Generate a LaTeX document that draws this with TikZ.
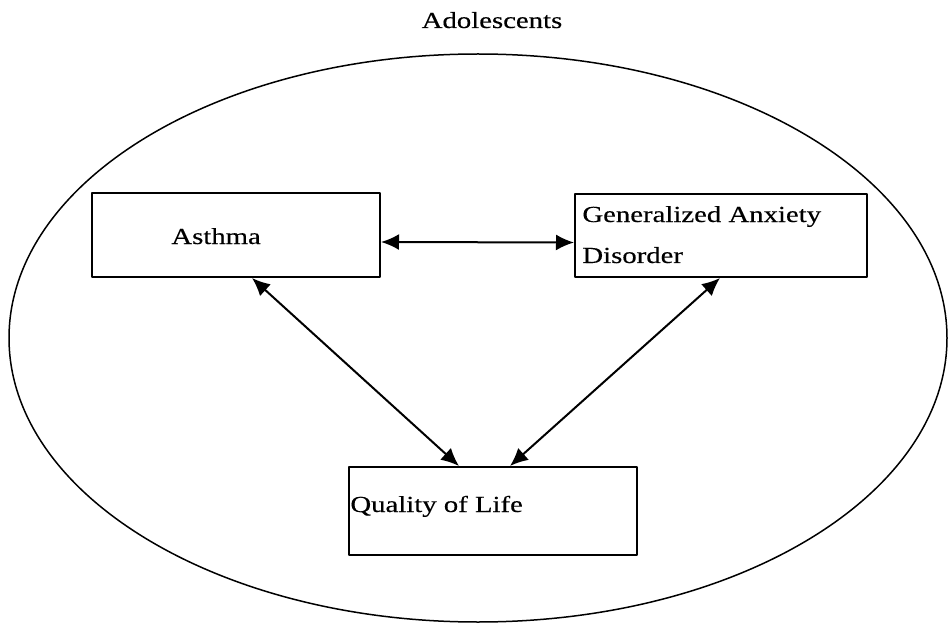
\documentclass[tikz,border=0pt]{standalone}
\usepackage{fontspec}
\setmainfont[FakeStretch=1.25, FakeBold=0.4]{Liberation Serif}
\usetikzlibrary{calc,arrows.meta}

\begin{document}
\begin{tikzpicture}[x=0.5pt, y=-0.5pt, line join=round,
    box/.style={draw, line width=1pt, inner sep=0pt},
    txt/.style={anchor=base west, inner sep=0pt, font=\fontsize{11.5}{14}\selectfont},
    link/.style={line width=1pt, {Latex[length=9pt,width=8pt]}-{Latex[length=9pt,width=8pt]}}]
    \useasboundingbox (0,0) rectangle (949,626);

    % population
    \draw[line width=0.75pt] (478,338) ellipse [x radius=469, y radius=284];
    \node[anchor=base, inner sep=0pt, font=\fontsize{11.5}{14}\selectfont] (title) at (492,28) {Adolescents};

    % boxes
    \node[box, minimum width=144pt, minimum height=42pt] (asthma) at (236,235) {};
    \node[box, minimum width=146pt, minimum height=41.5pt] (gad) at (721,235.5) {};
    \node[box, minimum width=144pt, minimum height=44pt] (qol) at (493,511) {};

    % box texts
    \node[txt] (asthmatxt) at (171,244) {Asthma};
    \node[txt] (gadtxta) at (582,222) {Generalized Anxiety};
    \node[txt] (gadtxtb) at (582,263) {Disorder};
    \node[txt] (qoltxt) at (350,512) {Quality of Life};

    % links
    \draw[link] ([yshift=-3.5pt]asthma.east) -- ([yshift=-3.5pt]gad.west);
    \draw[link] ($(asthma.south west)+(161,0)$) -- ($(qol.north west)+(111,0)$);
    \draw[link] ($(gad.south west)+(146,0)$) -- ($(qol.north west)+(162,0)$);

\end{tikzpicture}
\end{document}
